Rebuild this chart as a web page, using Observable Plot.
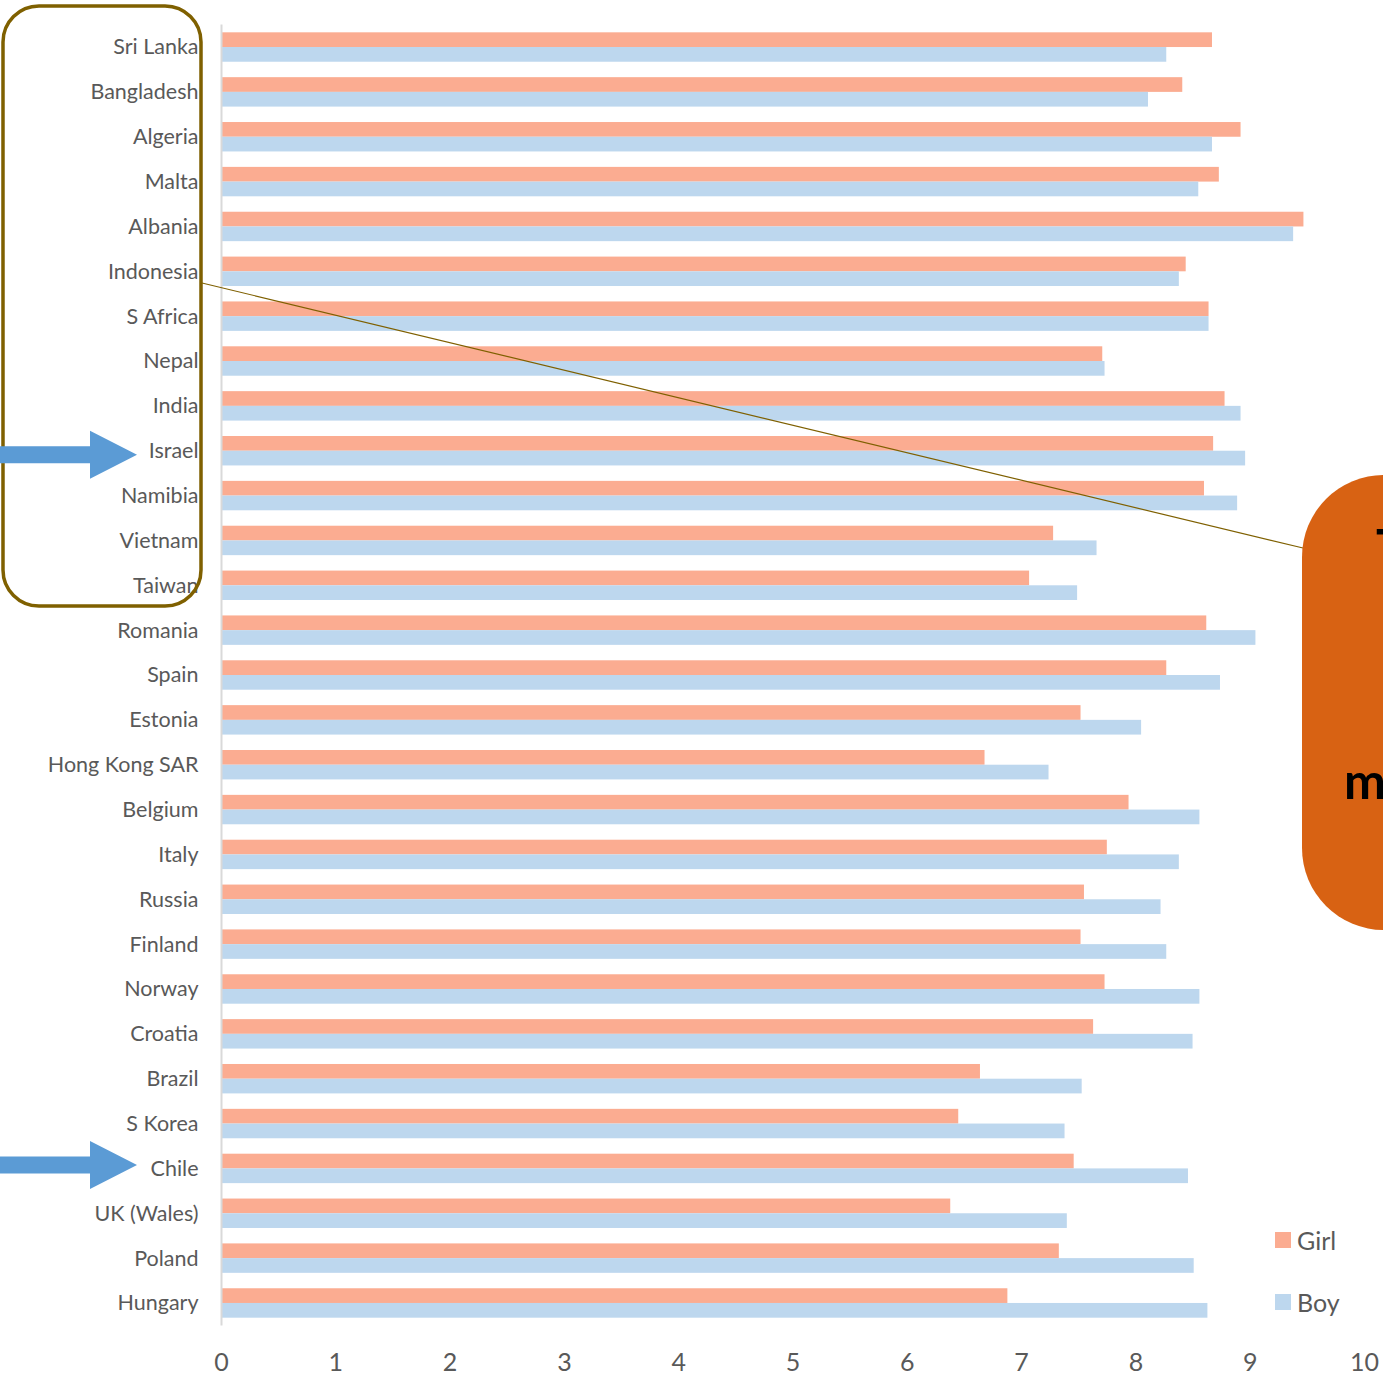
<!DOCTYPE html>
<html>
<head>
<meta charset="utf-8">
<script src="https://cdn.jsdelivr.net/npm/d3@7"></script>
<script src="https://cdn.jsdelivr.net/npm/@observablehq/plot@0.6"></script>
<style>
  html, body { margin: 0; padding: 0; background: #fff; }
  #wrap { position: relative; width: 1383px; height: 1383px; overflow: hidden; font-family: Lato, "Open Sans", sans-serif; }
  #overlay { position: absolute; left: 0; top: 0; pointer-events: none; }
  .legend { position: absolute; left: 1275px; font-size: 25px; line-height: 30px; color: #595959; display: flex; align-items: center; }
  .legend span.sw { display: inline-block; width: 16px; height: 16px; margin-right: 6px; }
</style>
</head>
<body>
<div id="wrap"></div>
<script>
const countries = ["Sri Lanka","Bangladesh","Algeria","Malta","Albania","Indonesia","S Africa","Nepal","India","Israel","Namibia","Vietnam","Taiwan","Romania","Spain","Estonia","Hong Kong SAR","Belgium","Italy","Russia","Finland","Norway","Croatia","Brazil","S Korea","Chile","UK (Wales)","Poland","Hungary"];
const girl = [8.67,8.41,8.92,8.73,9.47,8.44,8.64,7.71,8.78,8.68,8.60,7.28,7.07,8.62,8.27,7.52,6.68,7.94,7.75,7.55,7.52,7.73,7.63,6.64,6.45,7.46,6.38,7.33,6.88];
const boy  = [8.27,8.11,8.67,8.55,9.38,8.38,8.64,7.73,8.92,8.96,8.89,7.66,7.49,9.05,8.74,8.05,7.24,8.56,8.38,8.22,8.27,8.56,8.50,7.53,7.38,8.46,7.40,8.51,8.63];
const genders = ["Girl","Boy"];
const genderColors = ["#FBAC91","#BDD7EE"];
const xTicks = [0,1,2,3,4,5,6,7,8,9,10];
const highlighted = ["Israel","Chile"];

const girlData = countries.map((c, i) => ({country: c, value: girl[i]}));
const boyData = countries.map((c, i) => ({country: c, value: boy[i]}));

const W = 1383, H = 1383;
const step = (H - 24.6 - 57.6) / countries.length; // band step in px
const outer = step * 0.172;  // empty space above/below each pair
const half = step / 2;

const chart = Plot.plot({
  width: W, height: H,
  marginLeft: 221, marginRight: 19, marginTop: 24.6, marginBottom: 57.6,
  style: {fontFamily: "Lato, 'Open Sans', sans-serif", color: "#595959", background: "transparent"},
  x: {domain: [0, 10]},
  y: {domain: countries, padding: 0, round: false},
  marks: [
    Plot.barX(girlData, {y: "country", x: "value", fill: genderColors[0], insetTop: outer, insetBottom: half}),
    Plot.barX(boyData, {y: "country", x: "value", fill: genderColors[1], insetTop: half, insetBottom: outer}),
    Plot.ruleX([0], {stroke: "#d9d9d9", strokeWidth: 2}),
    Plot.axisY({anchor: "left", tickSize: 0, tickPadding: 23, fontSize: 21.5, label: null, fill: "#595959"}),
    Plot.axisX({ticks: xTicks, tickSize: 0, tickPadding: 27, fontSize: 25, label: null, tickFormat: d3.format("d"), fill: "#595959"})
  ]
});
const wrap = document.getElementById("wrap");
wrap.appendChild(chart);

// legend
genders.forEach((g, i) => {
  const d = document.createElement("div");
  d.className = "legend";
  d.style.top = (1225 + i * 62) + "px";
  d.innerHTML = `<span class="sw" style="background:${genderColors[i]}"></span>${g}`;
  wrap.appendChild(d);
});

// annotations
const ys = chart.scale("y");
const rowCenter = c => ys.apply(c) + ys.bandwidth / 2;
const svg = d3.select(wrap).append("svg").attr("id", "overlay").attr("width", W).attr("height", H);

// rounded box around the top countries
svg.append("rect").attr("x", 3).attr("y", 6).attr("width", 198).attr("height", 600)
  .attr("rx", 36).attr("fill", "none").attr("stroke", "#7F6000").attr("stroke-width", 3.5);
// connector line
svg.append("line").attr("x1", 202).attr("y1", 283).attr("x2", 1303).attr("y2", 548)
  .attr("stroke", "#7F6000").attr("stroke-width", 1.2);
// callout
svg.append("rect").attr("x", 1302).attr("y", 475).attr("width", 200).attr("height", 455)
  .attr("rx", 82).attr("fill", "#D86213");
svg.append("text").attr("x", 1376).attr("y", 565).attr("font-size", 50).attr("font-weight", "bold")
  .attr("font-family", "Lato, sans-serif").attr("fill", "#000").text("T");
svg.append("text").attr("x", 1344).attr("y", 799).attr("font-size", 50).attr("font-weight", "bold")
  .attr("font-family", "Lato, sans-serif").attr("fill", "#000").text("m");

// arrows
const arrowShift = {"Israel": 4, "Chile": -3.5};
highlighted.forEach(c => {
  const cy = rowCenter(c) + arrowShift[c];
  svg.append("path")
    .attr("d", `M0,${cy - 8.5} L90,${cy - 8.5} L90,${cy - 24} L137,${cy} L90,${cy + 24} L90,${cy + 8.5} L0,${cy + 8.5} Z`)
    .attr("fill", "#5B9BD5");
});
</script>
</body>
</html>
